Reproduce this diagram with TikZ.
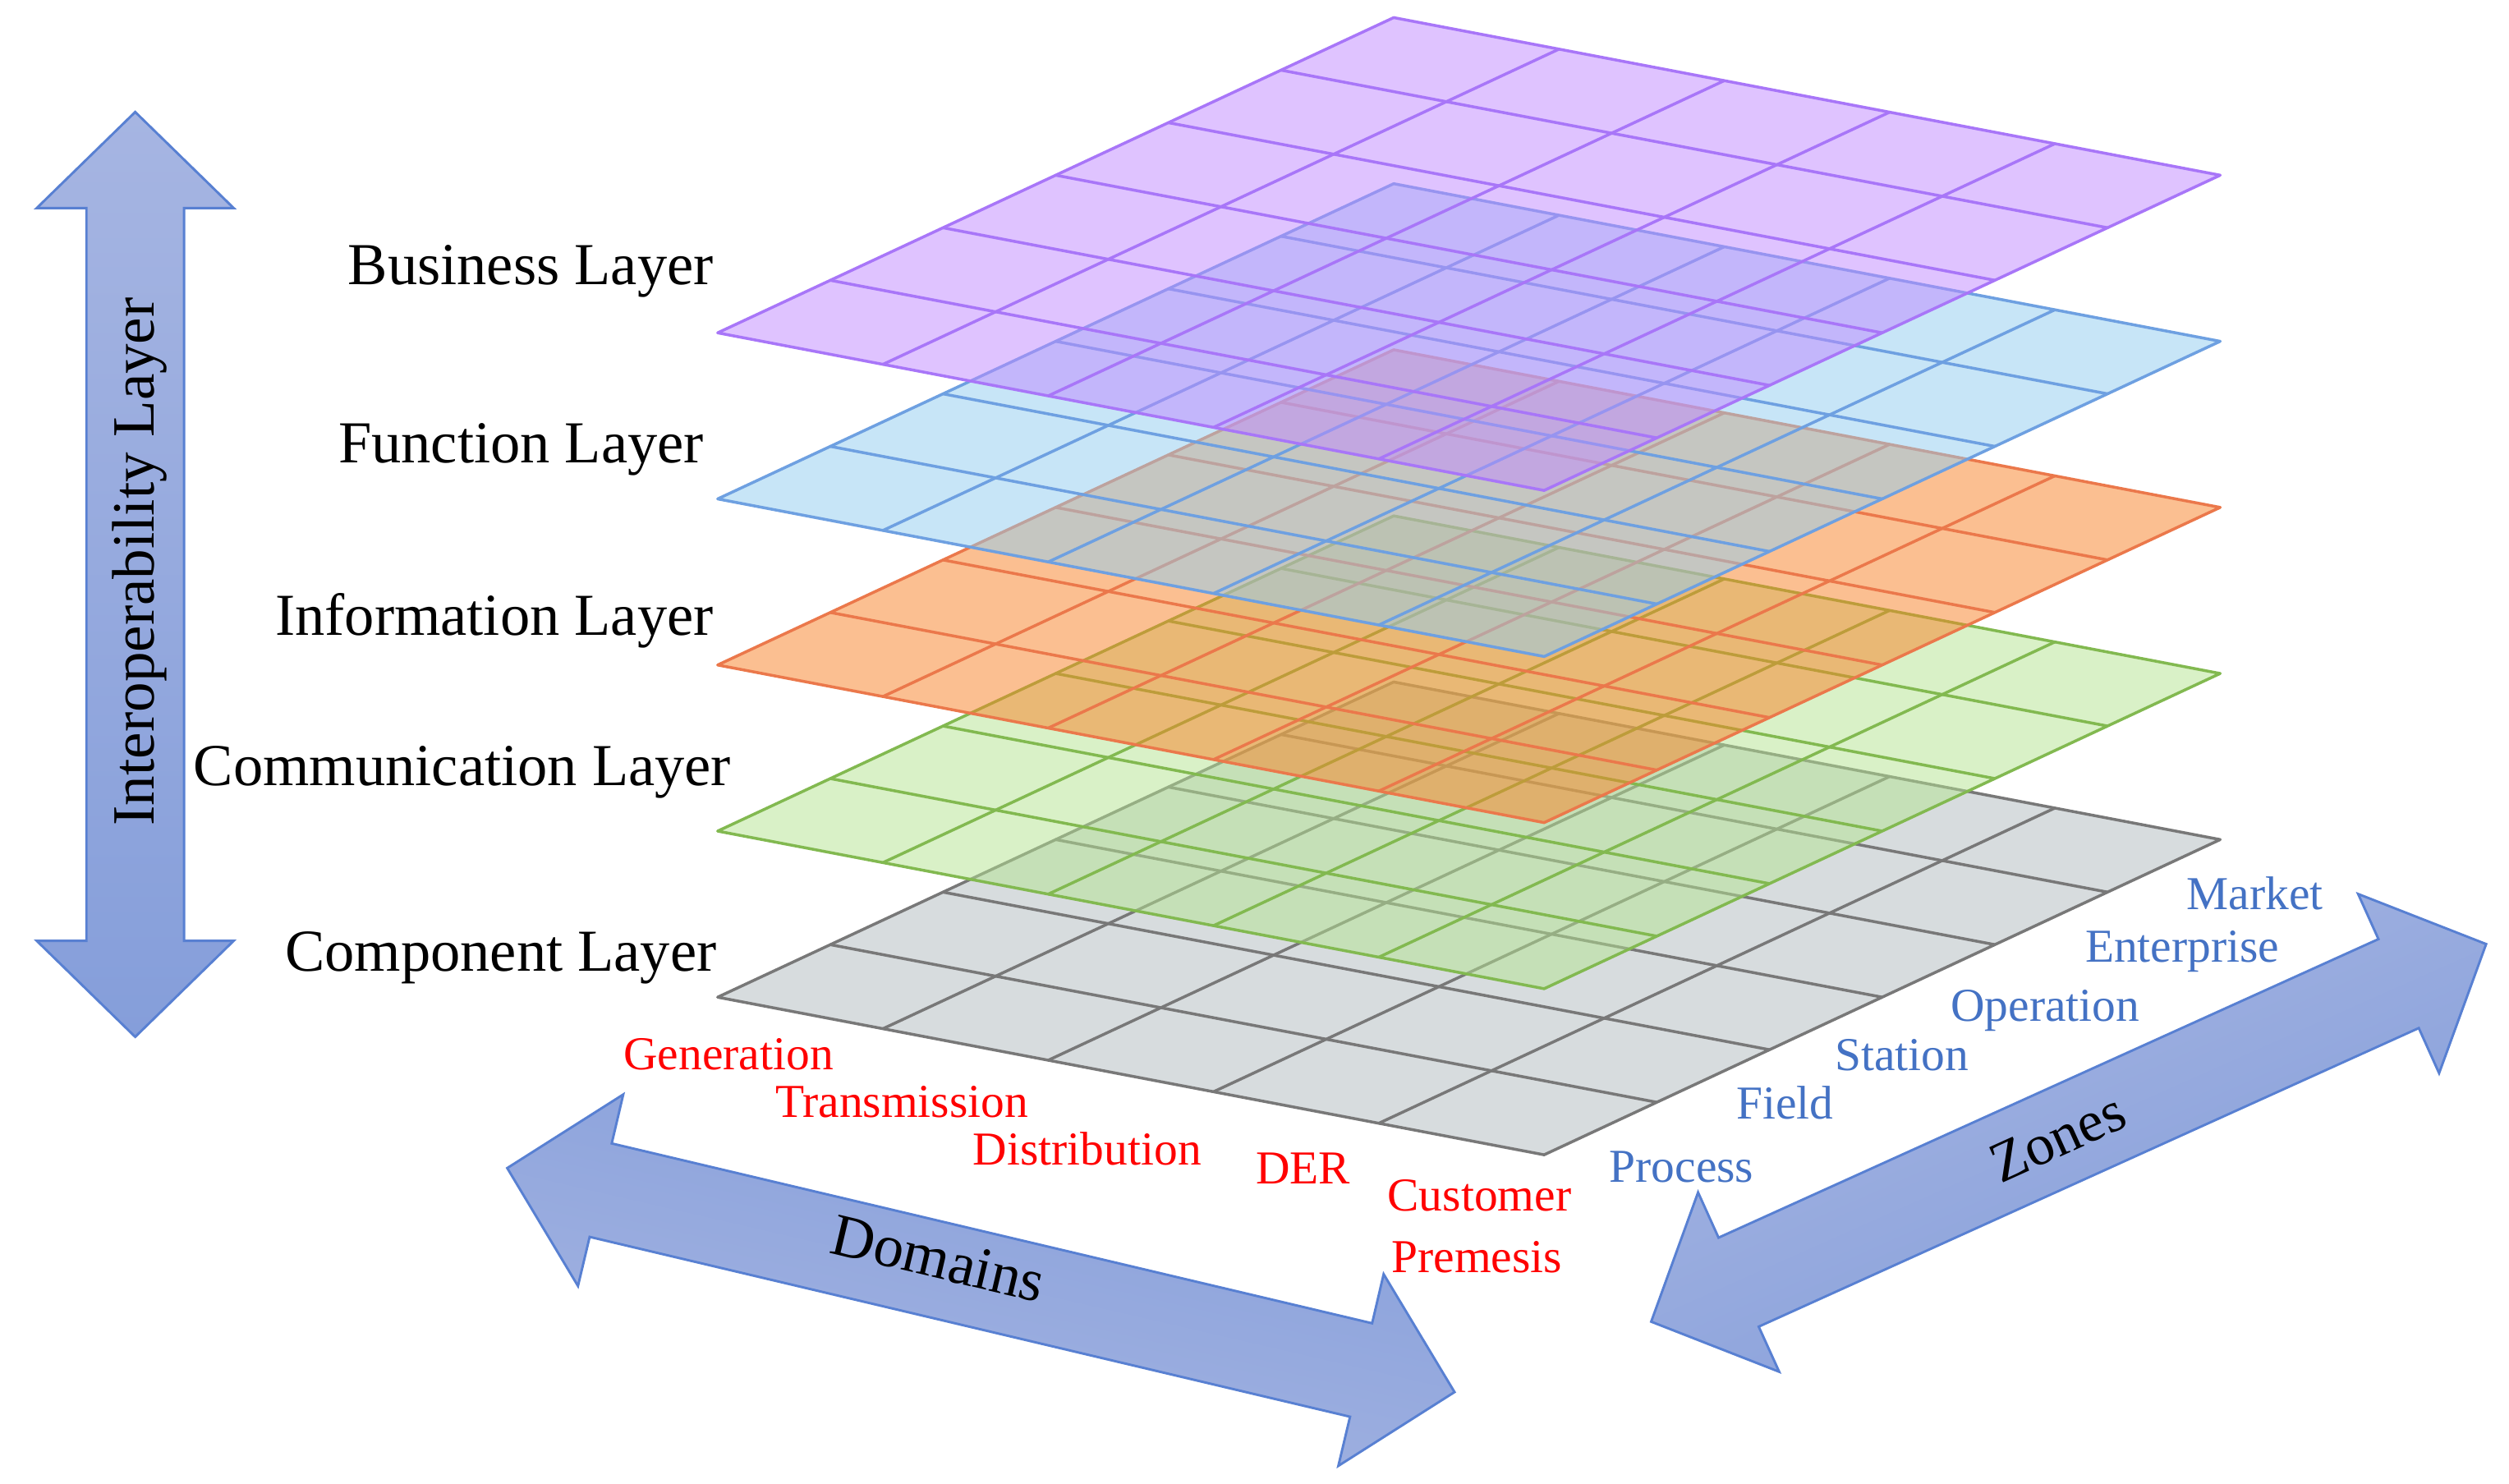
\documentclass[tikz,border=0pt]{standalone}
\usepackage{fontspec}
\setmainfont{Liberation Serif}
\definecolor{grayfill}{RGB}{215,220,222}
\definecolor{grayline}{RGB}{120,120,120}
\definecolor{greenfill}{RGB}{181,229,145}
\definecolor{greenline}{RGB}{130,185,80}
\definecolor{orangefill}{RGB}{249,129,37}
\definecolor{orangeline}{RGB}{235,120,75}
\definecolor{bluefill}{RGB}{145,205,241}
\definecolor{blueline}{RGB}{110,160,225}
\definecolor{purplefill}{RGB}{193,137,255}
\definecolor{purpleline}{RGB}{168,118,248}
\definecolor{arrowlight}{RGB}{166,181,226}
\definecolor{arrowdark}{RGB}{133,158,218}
\definecolor{arrowedge}{RGB}{88,128,210}
\definecolor{zonetext}{RGB}{68,114,196}
\definecolor{domaintext}{RGB}{255,0,0}
\tikzset{
  gridline/.style={line width=1.8pt, line join=round, line cap=round},
  layerlabel/.style={font=\fontsize{37.2}{40}\selectfont, text=black, inner sep=0pt},
  arrowlabel/.style={font=\fontsize{37.5}{40}\selectfont, text=black, inner sep=0pt},
  domainlabel/.style={font=\fontsize{29.5}{32}\selectfont, text=domaintext, inner sep=0pt},
  zonelabel/.style={font=\fontsize{29.5}{32}\selectfont, text=zonetext, inner sep=0pt},
  bigarrow/.style={draw=arrowedge, line width=1.5pt, line join=miter},
}
\newcommand{\smlayer}[4]{%
  \begin{scope}[shift={(448.5,208+103.8*#1)}, x={(516.5pt,-98.5pt)}, y={(422.5pt,197pt)}]
    \fill[#2, fill opacity=#4] (0,0) -- (1,0) -- (1,1) -- (0,1) -- cycle;
    \foreach \i in {1,...,5} \draw[gridline, #3] (0,\i/6) -- (1,\i/6);
    \foreach \j in {1,...,4} \draw[gridline, #3] (\j/5,0) -- (\j/5,1);
    \draw[gridline, #3] (0,0) -- (1,0) -- (1,1) -- (0,1) -- cycle;
  \end{scope}}
\begin{document}
\begin{tikzpicture}[x=1pt,y=-1pt]
\useasboundingbox (0,0) rectangle (1568,927);
\fill[white] (0,0) rectangle (1568,927);
% layers, bottom to top
\smlayer{4}{grayfill}{grayline}{1}
\smlayer{3}{greenfill}{greenline}{0.5}
\smlayer{2}{orangefill}{orangeline}{0.5}
\smlayer{1}{bluefill}{blueline}{0.5}
\smlayer{0}{purplefill}{purpleline}{0.5}
% layer labels
\node[layerlabel, anchor=base east] (business) at (446,178) {Business Layer};
\node[layerlabel, anchor=base east] (function) at (440,289) {Function Layer};
\node[layerlabel, anchor=base east] (information) at (446,397) {Information Layer};
\node[layerlabel, anchor=base east] (communication) at (457,491) {Communication Layer};
\node[layerlabel, anchor=base east] (component) at (448,607) {Component Layer};
% domain labels
\node[domainlabel, anchor=base west] (generation) at (389.6,668.6) {Generation};
\node[domainlabel, anchor=base west] (transmission) at (484.5,698.2) {Transmission};
\node[domainlabel, anchor=base west] (distribution) at (608,728) {Distribution};
\node[domainlabel, anchor=base west] (der) at (784.6,740) {DER};
\node[domainlabel, anchor=base west] (customer) at (867,757) {Customer};
\node[domainlabel, anchor=base west] (premesis) at (869.5,795.5) {Premesis};
% zone labels
\node[zonelabel, anchor=base west] (market) at (1366.5,568.2) {Market};
\node[zonelabel, anchor=base west] (enterprise) at (1303,601.5) {Enterprise};
\node[zonelabel, anchor=base west] (operation) at (1219,638.2) {Operation};
\node[zonelabel, anchor=base west] (station) at (1146.5,669) {Station};
\node[zonelabel, anchor=base west] (field) at (1085,699.4) {Field};
\node[zonelabel, anchor=base west] (process) at (1005.6,739) {Process};
% big arrows
\draw[bigarrow, top color=arrowlight, bottom color=arrowdark]
  (84.5,70) -- (146,130) -- (115,130) -- (115,588) -- (146,588) -- (84.5,648)
  -- (23,588) -- (54,588) -- (54,130) -- (23,130) -- cycle;
\draw[bigarrow, left color=arrowdark, right color=arrowlight, shading angle=-13]
  (317,730) -- (389.5,684.0) -- (382.3,714.6) -- (857.5,827.0) -- (864.7,796.3)
  -- (909,870) -- (836.4,916.1) -- (843.7,885.4) -- (368.5,773.0) -- (361.2,803.7) -- cycle;
\draw[bigarrow, left color=arrowlight, right color=arrowdark, shading angle=24]
  (1031.9,826) -- (1061.2,745.2) -- (1074.0,773.5) -- (1486.4,586.9) -- (1473.7,558.7)
  -- (1553.7,590) -- (1524.3,670.7) -- (1511.6,642.5) -- (1099.1,829.1) -- (1111.9,857.3) -- cycle;
% arrow texts
\node[arrowlabel, rotate=90, anchor=base] (interop) at (96,351) {Interoperability Layer};
\node[arrowlabel, rotate=-13.3] (domains) at (586.5,786.6) {Domains};
\node[arrowlabel, rotate=24.3, font=\fontsize{36}{40}\selectfont] (zones) at (1286,711) {Zones};
\end{tikzpicture}
\end{document}
